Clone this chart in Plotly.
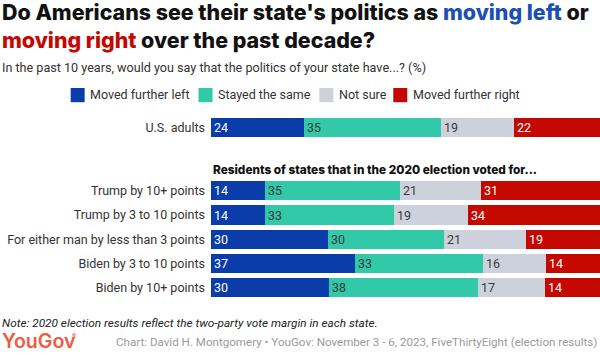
import plotly.graph_objects as go

categories = ["U.S. adults", "Trump by 10+ points", "Trump by 3 to 10 points",
              "For either man by less than 3 points", "Biden by 3 to 10 points",
              "Biden by 10+ points"]
series_names = ["Moved further left", "Stayed the same", "Not sure", "Moved further right"]
left = [24, 14, 14, 30, 37, 30]
same = [35, 35, 33, 30, 33, 38]
notsure = [19, 21, 19, 21, 16, 17]
right = [22, 31, 34, 19, 14, 14]

colors = ["#0a3daa", "#31c9a8", "#cdd1db", "#c40800"]
text_colors = ["#ffffff", "#3a3a3a", "#3a3a3a", "#ffffff"]

W, H = 600, 353
pitch = 24.2
ypos = [0] + [2.61 + i for i in range(len(categories) - 1)]
y0_px = 128
rng = [-0.6, 7.2]
top = y0_px + rng[0] * pitch
bottom = y0_px + rng[1] * pitch
ML, MR = 210.5, 0


def px_x(px):
    return (px - ML) / (W - ML - MR)


def px_y(py):
    return (bottom - py) / (bottom - top)


FONT = "Roboto"
fig = go.Figure()
for name, vals, c, tc in zip(series_names, [left, same, notsure, right], colors, text_colors):
    fig.add_trace(go.Bar(
        name=name, x=vals, y=ypos, orientation="h", marker=dict(color=c, line=dict(width=0)),
        width=19.2 / pitch, text=[str(v) for v in vals], texttemplate="%{text}",
        textposition="inside", insidetextanchor="start", textangle=0,
        textfont=dict(color=tc, size=12.5, family=FONT), constraintext="none",
        hoverinfo="skip", showlegend=False,
    ))

fig.update_layout(
    width=W, height=H, barmode="stack", barnorm="percent", bargap=0,
    plot_bgcolor="white", paper_bgcolor="white",
    margin=dict(l=ML, r=MR, t=top, b=H - bottom, pad=0, autoexpand=False),
    font=dict(family=FONT, color="#333333"),
    showlegend=False,
    xaxis=dict(range=[0, 100], visible=False, fixedrange=True),
    yaxis=dict(range=[rng[1], rng[0]], tickvals=ypos, ticktext=categories, showgrid=False,
               zeroline=False, showline=False, ticks="", ticklabelstandoff=5,
               tickfont=dict(size=12.5, color="#333333", family=FONT)),
)

# manual legend (squares + labels), positioned in pixels
legend_sq_x = [70, 198, 319, 393]
for name, c, sx in zip(series_names, colors, legend_sq_x):
    fig.add_shape(type="rect", xref="paper", yref="paper", x0=px_x(sx), x1=px_x(sx + 14),
                  y0=px_y(102.7), y1=px_y(88.5), fillcolor=c, line=dict(width=0), layer="above")
    fig.add_annotation(text=name, xref="paper", yref="paper", x=px_x(sx + 17.5), y=px_y(95.5),
                       xanchor="left", yanchor="middle", showarrow=False,
                       font=dict(family=FONT, size=12.5, color="#333333"))

title_html = ("Do Americans see their state's politics as <span style='color:#1a4fb5'>moving left</span> or<br>"
              "<span style='color:#c40800'>moving right</span> over the past decade?")
fig.add_annotation(text=title_html, xref="paper", yref="paper", x=px_x(-1), y=px_y(-2),
                   xanchor="left", yanchor="top", align="left", showarrow=False,
                   font=dict(family="Inter", size=21.4, weight=800, color="#111111"))
fig.add_annotation(text="In the past 10 years, would you say that the politics of your state have...? (%)",
                   xref="paper", yref="paper", x=px_x(-1), y=px_y(68.5), xanchor="left", yanchor="middle",
                   showarrow=False, font=dict(family=FONT, size=12.6, color="#333333"))
fig.add_annotation(text="Residents of states that in the 2020 election voted for...",
                   xref="paper", yref="paper", x=px_x(210), y=px_y(170), xanchor="left", yanchor="middle",
                   showarrow=False, font=dict(family="Inter", size=11.8, weight=800, color="#111111"))
fig.add_annotation(text="<i>Note: 2020 election results reflect the two-party vote margin in each state.</i>",
                   xref="paper", yref="paper", x=px_x(-1), y=px_y(323), xanchor="left", yanchor="middle",
                   showarrow=False, font=dict(family=FONT, size=11.8, color="#222222"))
fig.add_annotation(text="YouGov", xref="paper", yref="paper", x=px_x(0), y=px_y(341.5),
                   xanchor="left", yanchor="middle", showarrow=False, borderpad=0,
                   font=dict(family="Inter", size=19.5, weight=600, color="#ef5a44"))
fig.add_annotation(text="\u00ae", xref="paper", yref="paper", x=px_x(70.5), y=px_y(335.5),
                   xanchor="left", yanchor="middle", showarrow=False, borderpad=0,
                   font=dict(family="Inter", size=6, color="#ef5a44"))
fig.add_annotation(text="Chart: David H. Montgomery \u2022 YouGov: November 3 - 6, 2023, FiveThirtyEight (election results)",
                   xref="paper", yref="paper", x=px_x(599), y=px_y(342.5), xanchor="right", yanchor="middle",
                   showarrow=False, font=dict(family=FONT, size=11.6, color="#9a9a9a"))

fig.write_html("out.html")
